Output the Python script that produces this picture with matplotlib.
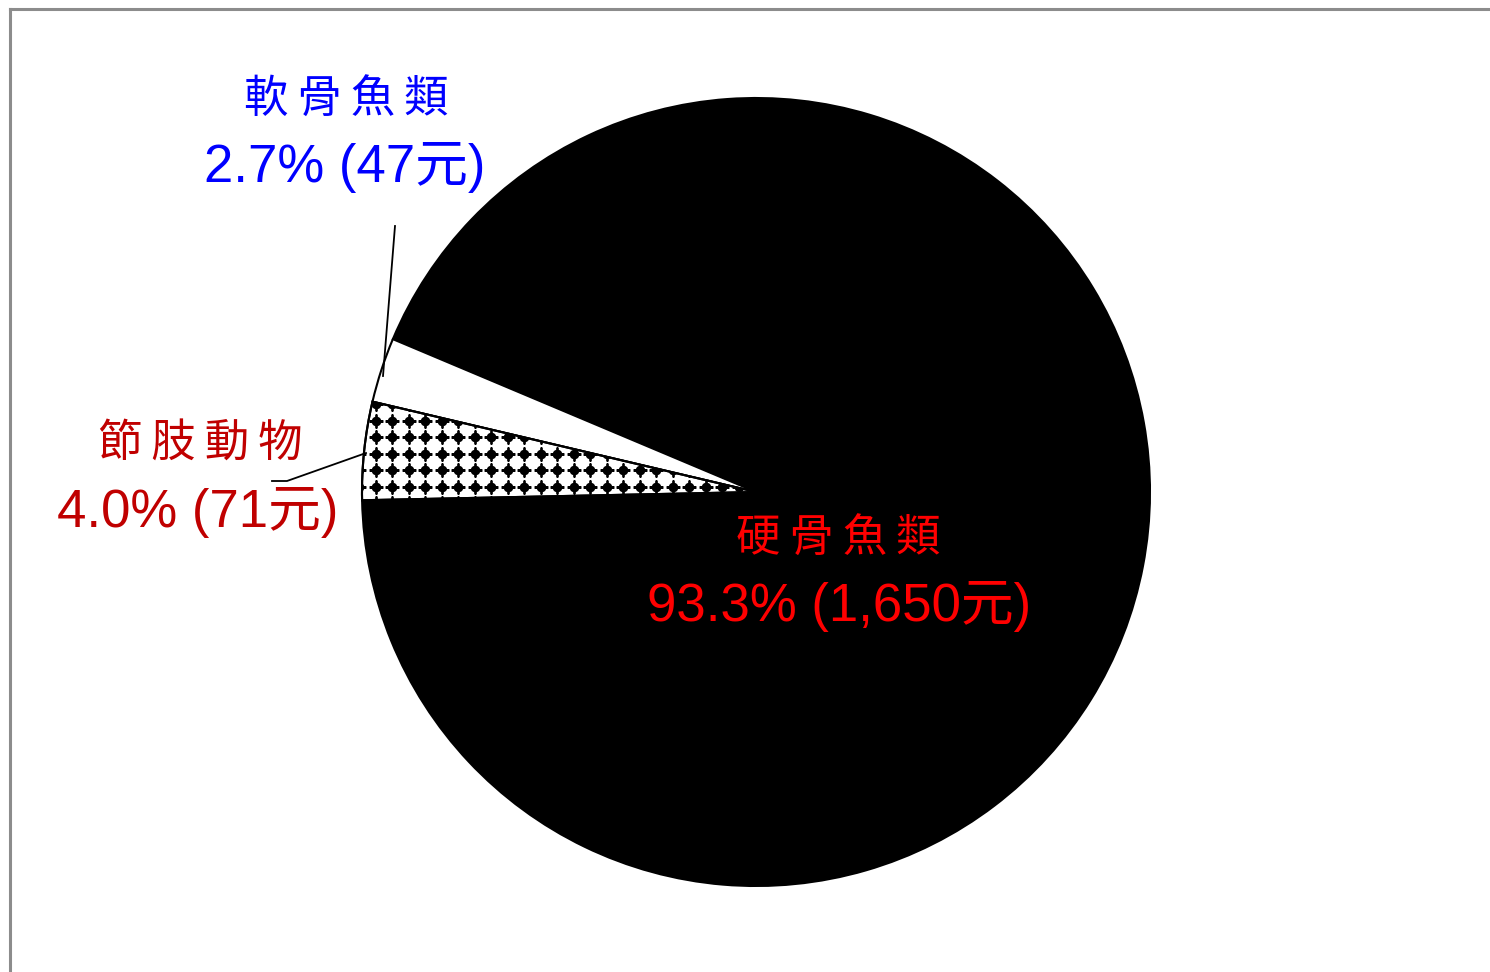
import numpy as np
import matplotlib
matplotlib.use("Agg")
import matplotlib.pyplot as plt
from matplotlib.patches import Wedge
from matplotlib.lines import Line2D

# ---- data ----
categories = ["硬骨魚類", "軟骨魚類", "節肢動物"]
amounts = [1650, 47, 71]
percents = ["93.3%", "2.7%", "4.0%"]
amount_labels = ["1,650", "47", "71"]
label_colors = ["#FF0000", "#0000FF", "#C00000"]
fill_colors = ["black", "white", "white"]

W, H = 1490, 972
fig = plt.figure(figsize=(W / 100, H / 100), dpi=100)
fig.patch.set_facecolor("white")
ax = fig.add_axes([0, 0, 1, 1])


def Y(py):
    return H - py


CX, CY, R = 756, 492, 394
wedges, _ = ax.pie(amounts, colors=fill_colors, startangle=181.2, counterclock=True,
                   center=(CX, Y(CY)), radius=R,
                   wedgeprops=dict(edgecolor="black", linewidth=1.5))
ax.set_xlim(0, W)
ax.set_ylim(0, H)
ax.set_aspect("equal")
ax.axis("off")

# dotted pattern for 節肢動物
hw = wedges[2]
gx = 392 + 16.5 * np.arange(-3, 24)
gy = 487 - 16.5 * np.arange(-2, 9)
PX, PY = np.meshgrid(gx, gy)
for mk, s, lw in [("o", 7.0 ** 2, 0), ("+", 10.5 ** 2, 1.9)]:
    sc = ax.scatter(PX.ravel(), Y(PY.ravel()), marker=mk, s=s, c="black",
                    linewidths=lw, zorder=2)
    sc.set_clip_path(hw)
outline = Wedge((CX, Y(CY)), R, hw.theta1, hw.theta2, fill=False,
                edgecolor="black", linewidth=1.5, zorder=3)
ax.add_patch(outline)

# labels
cjk = ["Noto Sans CJK TC", "DejaVu Sans"]
num = ["Liberation Sans", "Noto Sans CJK TC"]
sp = "\u2009"
name_pos = [(838, 539), (346, 100), (200, 444)]
num_pos = [(839, 621), (345, 182), (198, 527)]
for i in range(3):
    nm = sp.join(categories[i])
    ax.text(name_pos[i][0], Y(name_pos[i][1]), nm, family=cjk, fontsize=32,
            color=label_colors[i], ha="center", va="center", zorder=5)
    ax.text(num_pos[i][0], Y(num_pos[i][1]),
            f"{percents[i]} ({amount_labels[i]}元)", family=num, fontsize=38,
            color=label_colors[i], ha="center", va="baseline", zorder=5)

# leader lines
ax.plot([395, 383], [Y(226), Y(376)], color="black", lw=1.3, zorder=4)
ax.plot([272, 287, 366], [Y(481), Y(481), Y(453)], color="black", lw=1.3, zorder=4)

# frame (left and top edges)
fig.add_artist(Line2D([9.5 / W, 9.5 / W], [0, 1 - 9.5 / H], color="#8c8c8c", lw=2.2,
                      transform=fig.transFigure))
fig.add_artist(Line2D([9.5 / W, 1], [1 - 9.5 / H, 1 - 9.5 / H], color="#8c8c8c", lw=2.2,
                      transform=fig.transFigure))

fig.savefig("out.png", dpi=100, facecolor="white")
